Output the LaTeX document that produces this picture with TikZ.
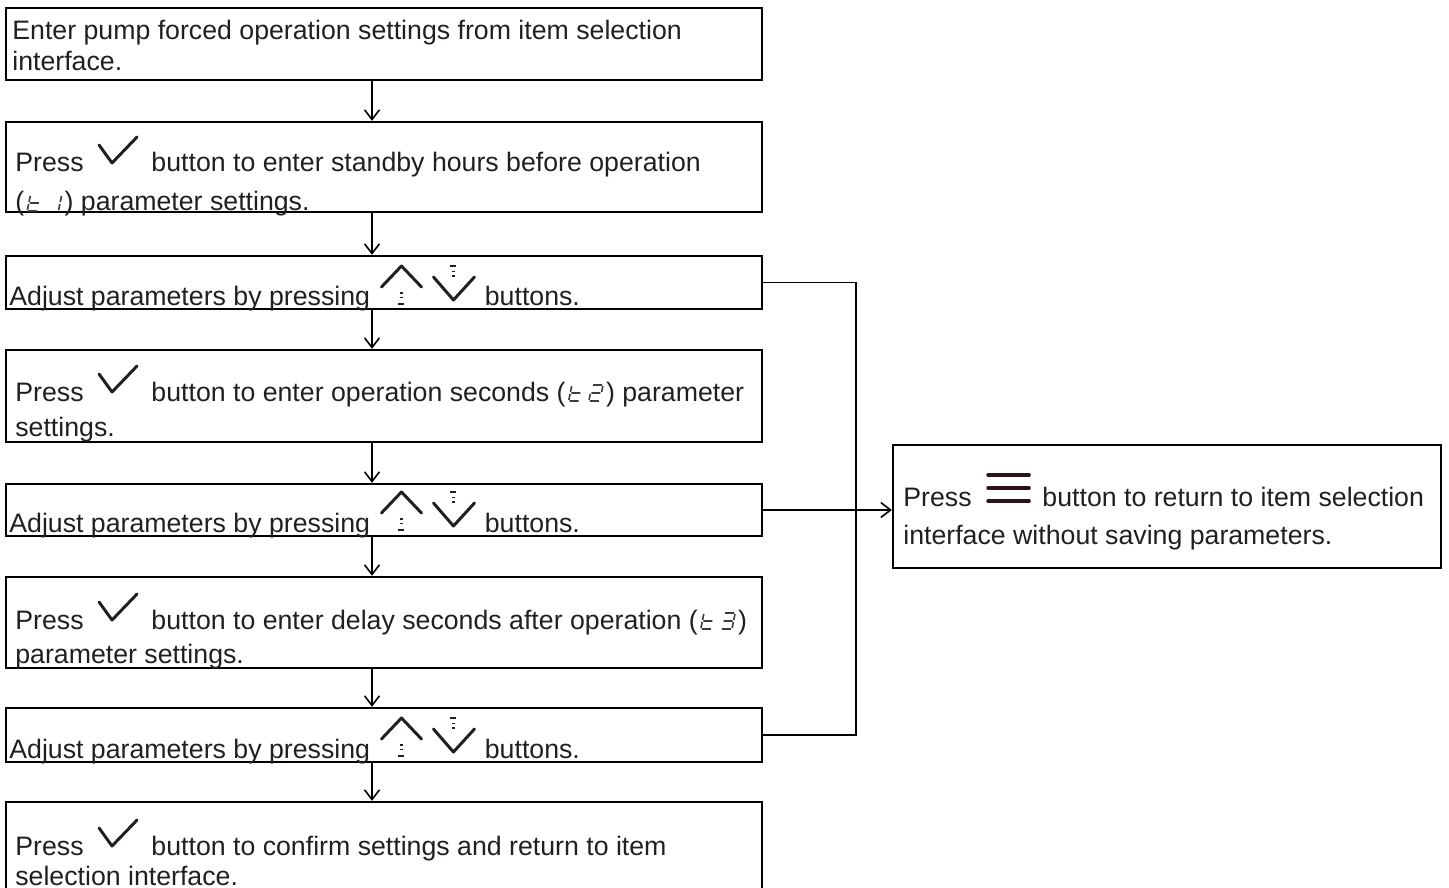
\documentclass[tikz,border=0pt]{standalone}
\usepackage{fontspec}
\setmainfont{Liberation Sans}
\usepackage{xcolor}
\definecolor{inkdark}{RGB}{35,31,32}
\definecolor{menuink}{RGB}{43,21,24}
\definecolor{seggray}{RGB}{60,60,60}
\usepackage{tikz}
\usetikzlibrary{arrows.meta, positioning}

% inline button icons (units: pixels)
\newcommand{\okbtn}{\tikz[baseline=0pt, x=0.02cm, y=0.02cm]{\useasboundingbox (-8,0) rectangle (45,35);
  \draw[inkdark, line width=1.7pt, line cap=round, line join=round] (0,27) -- (13,9) -- (38,35);}}
\newcommand{\updnbtn}{\tikz[baseline=0pt, x=0.02cm, y=0.02cm]{\useasboundingbox (-4,0) rectangle (96,41);
  \draw[inkdark, line width=1.7pt, line cap=round, line join=round] (0,19) -- (20,40) -- (40,19) (52,29) -- (72,6) -- (93,29);
  \draw[inkdark, line width=0.9pt] (18.5,13) -- (21.5,13) (18.5,8.5) -- (21.5,8.5) (17,2) -- (23,2)
    (69,40) -- (75,40) (70.5,34.5) -- (73.5,34.5) (70.5,30) -- (73.5,30);}}
\newcommand{\menubtn}{\tikz[baseline=0pt, x=0.02cm, y=0.02cm]{\useasboundingbox (-9,0) rectangle (47,33);
  \draw[menuink, line width=2pt, line cap=round] (0,5) -- (41,5) (0,18) -- (41,18) (0,31) -- (41,31);}}
% seven segment display characters
\newcommand{\segglyph}[1]{\tikz[baseline=0pt, x=0.02cm, y=0.02cm, xslant=0.2]{\useasboundingbox (-3,0) rectangle (14,16);
  \draw[seggray, line width=0.9pt] #1;}}
\newcommand{\segt}{\segglyph{(0,15) -- (0,9) (0,7) -- (0,1) (1,8) -- (10,8) (1,0) -- (10,0)}}
\newcommand{\segone}{\segglyph{(11,15) -- (11,9) (11,7) -- (11,1)}}
\newcommand{\segtwo}{\segglyph{(1,16) -- (10,16) (11,15) -- (11,9) (1,8) -- (10,8) (0,7) -- (0,1) (1,0) -- (10,0)}}
\newcommand{\segthree}{\segglyph{(1,16) -- (10,16) (11,15) -- (11,9) (1,8) -- (10,8) (11,7) -- (11,1) (1,0) -- (10,0)}}

\begin{document}
\begin{tikzpicture}[x=0.02cm, y=-0.02cm,
    stepbox/.style={draw=black, line width=1.4pt, minimum width=15.12cm, inner sep=0pt},
    sidebox/.style={draw=black, line width=1.4pt, minimum width=10.96cm, minimum height=2.46cm, inner sep=0pt},
    steptext/.style={anchor=base west, inner sep=0pt, text=inkdark, font=\fontsize{15.2}{18}\selectfont},
    flow/.style={line width=1.1pt, -{Straight Barb[length=5.5pt, width=8.5pt, line width=0.9pt]}},
    rail/.style={line width=1.1pt}]
  \useasboundingbox (0,0) rectangle (1449,888);

  % --- Step boxes ---
  \node[stepbox, minimum height=1.44cm] (b1) at (384,44) {};
  \node[stepbox, minimum height=1.80cm] (b2) at (384,167) {};
  \node[stepbox, minimum height=1.06cm] (b3) at (384,282.5) {};
  \node[stepbox, minimum height=1.84cm] (b4) at (384,396) {};
  \node[stepbox, minimum height=1.04cm] (b5) at (384,510) {};
  \node[stepbox, minimum height=1.82cm] (b6) at (384,622.5) {};
  \node[stepbox, minimum height=1.08cm] (b7) at (384,735) {};
  \node[stepbox, minimum height=1.92cm] (b8) at (384,850) {};
  % Return box
  \node[sidebox] (rb) at (1167,506.5) {};

  % --- Texts ---
  \node[steptext] (t11) at (12,40) {Enter pump forced operation settings from item selection};
  \node[steptext] (t12) at (12,71) {interface.};
  \node[steptext] (t21) at (15,172) {Press \okbtn\ button to enter standby hours before operation};
  \node[steptext] (t22) at (15,211) {(\segt\segone) parameter settings.};
  \node[steptext] (t31) at (9,306) {Adjust parameters by pressing \updnbtn\ buttons.};
  \node[steptext] (t41) at (15,401) {Press \okbtn\ button to enter operation seconds (\segt\segtwo) parameter};
  \node[steptext] (t42) at (15,436) {settings.};
  \node[steptext] (t51) at (9,532) {Adjust parameters by pressing \updnbtn\ buttons.};
  \node[steptext] (t61) at (15,629) {Press \okbtn\ button to enter delay seconds after operation (\segt\segthree)};
  \node[steptext] (t62) at (15,663) {parameter settings.};
  \node[steptext] (t71) at (9,758) {Adjust parameters by pressing \updnbtn\ buttons.};
  \node[steptext] (t81) at (15,855) {Press \okbtn\ button to confirm settings and return to item};
  \node[steptext] (t82) at (15,885) {selection interface.};
  \node[steptext] (r1) at (903,506) {Press \menubtn\ button to return to item selection};
  \node[steptext] (r2) at (903,544) {interface without saving parameters.};

  % --- Connectors ---
  \coordinate (spine) at (372,0);
  \draw[flow] (b1.south -| spine) -- (b2.north -| spine);
  \draw[flow] (b2.south -| spine) -- (b3.north -| spine);
  \draw[flow] (b3.south -| spine) -- (b4.north -| spine);
  \draw[flow] (b4.south -| spine) -- (b5.north -| spine);
  \draw[flow] (b5.south -| spine) -- (b6.north -| spine);
  \draw[flow] (b6.south -| spine) -- (b7.north -| spine);
  \draw[flow] (b7.south -| spine) -- (b8.north -| spine);
  \draw[rail] (b3.east) -- ++(93,0) |- (b7.east);
  \draw[flow] (b5.east) -- (b5.east -| rb.west);
\end{tikzpicture}
\end{document}
